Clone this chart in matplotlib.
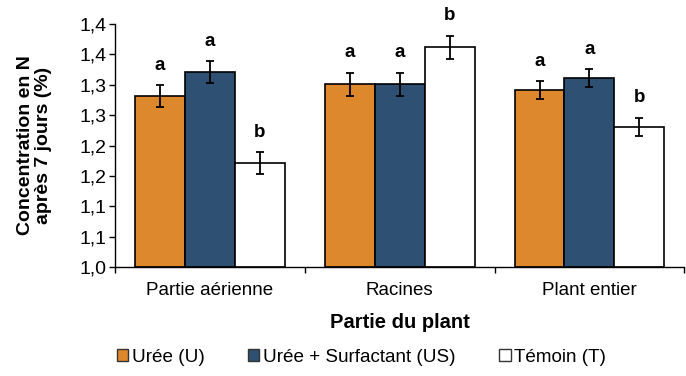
import numpy as np
import matplotlib
matplotlib.use("Agg")
import matplotlib.pyplot as plt
from matplotlib.patches import Patch

plt.rcParams["font.family"] = ["Liberation Sans", "DejaVu Sans"]

# ── data ──
categories = ["Partie aérienne", "Racines", "Plant entier"]
series_names = ["Urée (U)", "Urée + Surfactant (US)", "Témoin (T)"]
uree = [1.281, 1.301, 1.291]
uree_surf = [1.321, 1.301, 1.311]
temoin = [1.171, 1.362, 1.231]
err_uree = [0.018, 0.019, 0.015]
err_uree_surf = [0.018, 0.019, 0.015]
err_temoin = [0.018, 0.019, 0.015]
letters_uree = ["a", "a", "a"]
letters_uree_surf = ["a", "a", "a"]
letters_temoin = ["b", "b", "b"]
yticks = [1.00, 1.05, 1.10, 1.15, 1.20, 1.25, 1.30, 1.35, 1.40]
ytick_labels = ["1,0", "1,1", "1,1", "1,2", "1,2", "1,3", "1,3", "1,4", "1,4"]

colors = ["#DD882C", "#2E5072", "#FFFFFF"]
values = [uree, uree_surf, temoin]
errors = [err_uree, err_uree_surf, err_temoin]
letters = [letters_uree, letters_uree_surf, letters_temoin]

fig = plt.figure(figsize=(6.86, 3.76), dpi=100)
ax = fig.add_axes([0.1676, 0.290, 0.830, 0.646])

x = np.arange(len(categories))
w = 0.263
for i, (vals, errs, lets, col) in enumerate(zip(values, errors, letters, colors)):
    xpos = x + (i - 1) * w
    ax.bar(xpos, np.array(vals) - 1.0, bottom=1.0, width=w, color=col,
           edgecolor="black", linewidth=1.2, zorder=2)
    ax.errorbar(xpos, vals, yerr=errs, fmt="none", ecolor="black",
                elinewidth=1.3, capsize=2.6, capthick=1.3, zorder=3)
    for xp, v, e, l in zip(xpos, vals, errs, lets):
        ax.annotate(l, (xp, v + e), xytext=(0, 11), textcoords="offset points",
                    ha="center", va="baseline", fontsize=13.5,
                    fontweight="bold")

ax.set_xlim(-0.5, len(categories) - 0.5)
ax.set_ylim(1.0, 1.4)
ax.set_yticks(yticks)
ax.set_yticklabels(ytick_labels, fontsize=14)
ax.tick_params(axis="y", direction="out", length=4, width=1, pad=2)

ax.set_xticks(x)
ax.set_xticklabels(categories, fontsize=13.5)
ax.tick_params(axis="x", which="major", length=0, pad=11)
ax.set_xticks(np.arange(-0.5, len(categories), 1.0), minor=True)
ax.tick_params(axis="x", which="minor", direction="out", length=4, width=1)

for sp in ["top", "right"]:
    ax.spines[sp].set_visible(False)
for sp in ["left", "bottom"]:
    ax.spines[sp].set_linewidth(1.0)

ax.set_xlabel("Partie du plant", fontsize=14.5, fontweight="bold", labelpad=10)
ax.set_ylabel("Concentration en N\naprès 7 jours (%)", fontsize=14,
              fontweight="bold", labelpad=20, linespacing=1.05)

handles = [Patch(facecolor=c, edgecolor="#333333", linewidth=1.0) for c in colors]
fig.legend(handles, series_names, loc="center", bbox_to_anchor=(0.527, 0.05),
           ncol=3, frameon=False, fontsize=13.6, handlelength=0.6,
           handleheight=0.6, handletextpad=0.2, columnspacing=2.3)

fig.savefig("out.png", dpi=100)
